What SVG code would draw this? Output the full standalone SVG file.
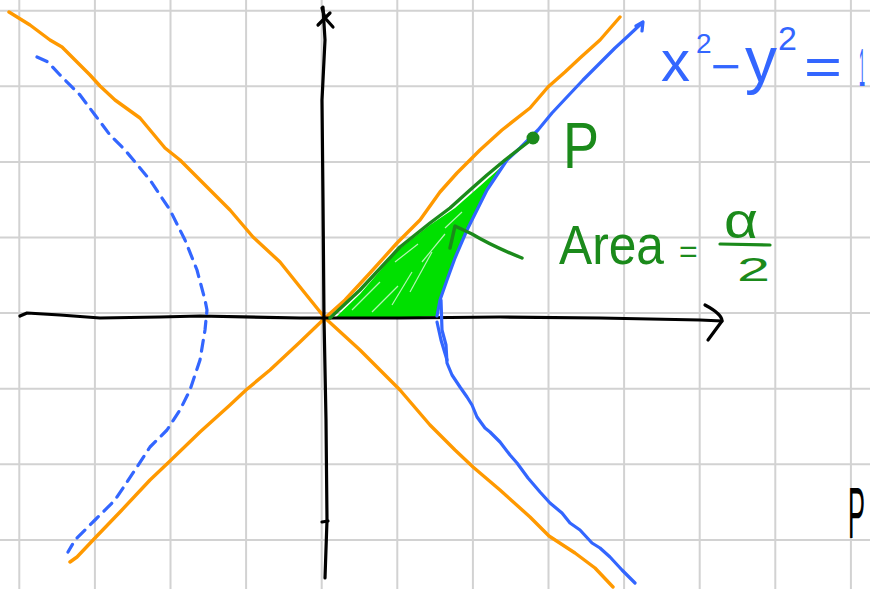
<svg xmlns="http://www.w3.org/2000/svg" width="870" height="589" viewBox="0 0 870 589">
<style>
.grid line{stroke:#d2d2d2;stroke-width:2}
.ax{fill:none;stroke:#000;stroke-width:3.2;stroke-linecap:round;stroke-linejoin:round}
.or{fill:none;stroke:#ff9900;stroke-width:3.4;stroke-linecap:round;stroke-linejoin:round}
.bl{fill:none;stroke:#3366ff;stroke-width:3.2;stroke-linecap:round;stroke-linejoin:round}
.dg{fill:none;stroke:#1b8a1b;stroke-width:3.4;stroke-linecap:round;stroke-linejoin:round}
.gt{fill:#1b8a1b;font-family:"Liberation Sans",Arial,sans-serif}
.bt{fill:#3366ff;font-family:"Liberation Sans",Arial,sans-serif}
</style>
<rect width="870" height="589" fill="#fff"/>
<g id="grid" class="grid">
<line x1="19.3" y1="0" x2="19.3" y2="589"/><line x1="94.9" y1="0" x2="94.9" y2="589"/><line x1="170.5" y1="0" x2="170.5" y2="589"/><line x1="246.1" y1="0" x2="246.1" y2="589"/><line x1="321.7" y1="0" x2="321.7" y2="589"/><line x1="397.3" y1="0" x2="397.3" y2="589"/><line x1="472.9" y1="0" x2="472.9" y2="589"/><line x1="548.5" y1="0" x2="548.5" y2="589"/><line x1="624.1" y1="0" x2="624.1" y2="589"/><line x1="699.7" y1="0" x2="699.7" y2="589"/><line x1="775.3" y1="0" x2="775.3" y2="589"/><line x1="850.9" y1="0" x2="850.9" y2="589"/>
<line x1="0" y1="10.7" x2="870" y2="10.7"/><line x1="0" y1="86.3" x2="870" y2="86.3"/><line x1="0" y1="161.9" x2="870" y2="161.9"/><line x1="0" y1="237.5" x2="870" y2="237.5"/><line x1="0" y1="313.1" x2="870" y2="313.1"/><line x1="0" y1="388.7" x2="870" y2="388.7"/><line x1="0" y1="464.3" x2="870" y2="464.3"/><line x1="0" y1="539.9" x2="870" y2="539.9"/>
</g>
<g id="area">
<polygon fill="#00e000" points="335,318 360,294 398,250 430,225 455,208 480,186 500,168 512,154 505,164 497,176 487,191 477,211 467,231 455,259 447,281 441,300 437,316 400,318 360,319"/>
<g stroke="#fff" stroke-width="1.2" opacity="0.7">
<line x1="352" y1="310" x2="380" y2="282"/><line x1="372" y1="312" x2="398" y2="286"/><line x1="392" y1="305" x2="412" y2="272"/><line x1="410" y1="292" x2="432" y2="252"/><line x1="422" y1="262" x2="445" y2="234"/><line x1="445" y1="228" x2="462" y2="212"/><line x1="395" y1="262" x2="418" y2="244"/>
</g>
</g>
<g id="asymptotes">
<path class="or" d="M9,12 L30,25 L50,40 L62,47 L75,60 L90,75 L100,86 L115,100 L140,118 L165,148 L180,160 L195,175 L230,210 L253,237 L280,262 L300,287 L325,318 L360,350 L400,390 L430,425 L455,450 L473,467 L500,490 L530,517 L549,536 L575,553 L595,568 L613,587"/>
<path class="or" d="M70,562 L77,557 L95,538 L120,512 L150,480 L170,461 L200,432 L230,405 L246,390 L270,370 L300,342 L325,318 L345,300 L370,273 L397,243 L420,220 L440,192 L457,173 L480,150 L502,130 L530,108 L548,87 L565,72 L580,58 L600,40 L620,17"/>
</g>
<g id="axes">
<path class="ax" d="M20,316 L27,313 L60,315 L100,318 L160,317 L200,316 L300,318 L400,318 L500,317 L600,318 L700,320 L722,321"/>
<path class="ax" d="M705,305 Q722,314 722,321 L708,340"/>
<path class="ax" d="M323,7 L325,40 L322,100 L323,200 L324,318 L326,420 L327,520 L325,578"/>
<path class="ax" d="M322,522 L328,521"/>
<path class="ax" d="M318,25 L330,13 M322,8 L325,18 L333,27"/>
</g>
<g id="hyperbola">
<path class="bl" d="M437,316 L440,300 L447,280 L455,258 L467,230 L477,210 L487,190 L497,175 L507,160 L520,148 L538,130 L552,113 L567,97 L583,80 L600,63 L615,48 L627,37 L643,22 M636,26 L643,22 L642,31"/>
<path class="bl" d="M441,300 L442,330 L446,345 L447,363 L452,375 L460,387 L467,397 L472,405 L477,417 L485,428 L490,432 L500,442 L510,455 L517,463 L528,478 L540,492 L550,503 L562,513 L570,523 L580,530 L592,543 L600,548 L610,557 L622,570 L635,583"/>
<path class="bl" d="M437,322 L441,340 L447,360"/>
<path class="bl" stroke-width="3.5" stroke-dasharray="11 8" d="M37,57 L48,62 L60,75 L80,95 L95,115 L110,135 L125,150 L150,180 L170,210 L185,240 L197,270 L205,300 L207,310 L205,330 L200,360 L190,390 L180,410 L167,430 L150,447 L135,470 L115,500 L95,520 L75,540 L68,552"/>
</g>
<g id="point-P">
<path class="dg" d="M330,318 L360,290 L400,247 L430,223 L450,208 L470,190 L487,175 L505,160 L527,143 L533,138"/>
<circle cx="533" cy="138" r="6.5" fill="#1b8a1b"/>
<path class="dg" d="M522,258 Q492,246 472,234 L455,226 L450,248"/>
</g>
<g id="labels">
<text class="gt" x="563" y="168" font-size="64" textLength="36" lengthAdjust="spacingAndGlyphs">P</text>
<text class="gt" x="559" y="264" font-size="56" textLength="105" lengthAdjust="spacingAndGlyphs">Area</text>
<text class="gt" x="679" y="262" font-size="32">=</text>
<text class="gt" x="724" y="238" font-size="50" textLength="34" lengthAdjust="spacingAndGlyphs">α</text>
<line x1="720" y1="244" x2="770" y2="245" stroke="#1b8a1b" stroke-width="3.2" stroke-linecap="round"/>
<text class="gt" x="737" y="281" font-size="33" textLength="33" lengthAdjust="spacingAndGlyphs">2</text>
<text class="bt" x="661" y="81" font-size="58">x</text>
<text class="bt" x="696" y="53" font-size="28">2</text>
<text class="bt" x="711" y="82" font-size="46" textLength="30" lengthAdjust="spacingAndGlyphs">−</text>
<text class="bt" x="745" y="82" font-size="64">y</text>
<text class="bt" x="778" y="50" font-size="34">2</text>
<text class="bt" x="804" y="85" font-size="54" textLength="38" lengthAdjust="spacingAndGlyphs">=</text>
<text class="bt" x="859" y="86" font-size="54" textLength="6" lengthAdjust="spacingAndGlyphs">1</text>
<text x="848" y="538" font-size="72" fill="#000" font-family="Liberation Sans,Arial,sans-serif" textLength="17" lengthAdjust="spacingAndGlyphs">P</text>
</g>
</svg>
